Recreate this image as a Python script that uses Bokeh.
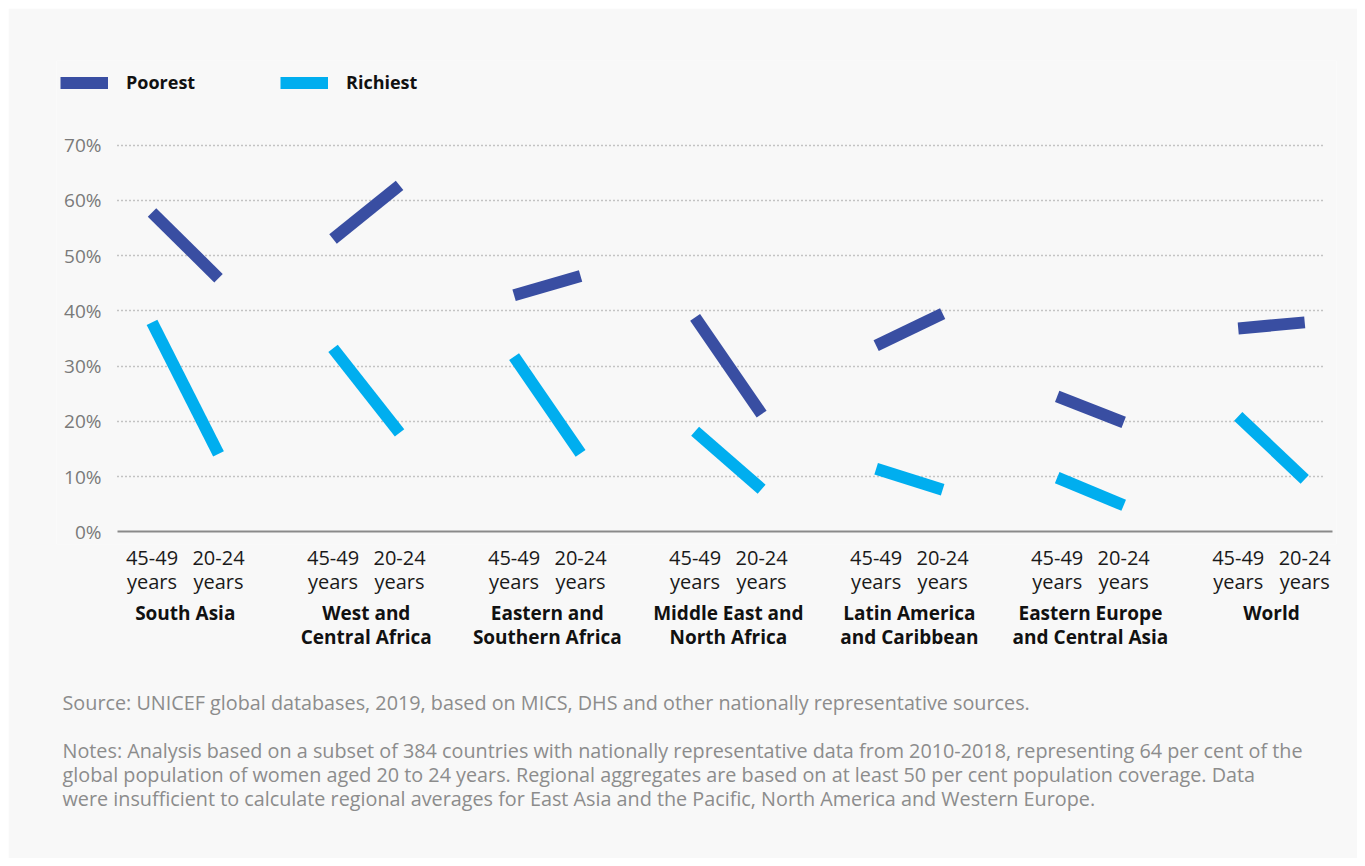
from bokeh.plotting import figure
from bokeh.models import (ColumnDataSource, Range1d, FixedTicker, LinearAxis, Grid,
                          PrintfTickFormatter, Legend, LegendItem, Title)
from bokeh.embed import file_html
from bokeh.resources import INLINE

# ---- data ----
regions = ["South Asia", "West and\nCentral Africa", "Eastern and\nSouthern Africa",
           "Middle East and\nNorth Africa", "Latin America\nand Caribbean",
           "Eastern Europe\nand Central Asia", "World"]
ages = ["45-49\nyears", "20-24\nyears"]

poorest_45_49 = [57.8, 53.0, 42.8, 38.8, 33.7, 24.5, 36.8]
poorest_20_24 = [45.9, 62.7, 46.3, 21.3, 39.5, 19.8, 37.9]
richiest_45_49 = [37.9, 33.2, 31.7, 18.2, 11.4, 9.8, 20.9]
richiest_20_24 = [14.1, 17.9, 14.2, 7.7, 7.6, 4.8, 9.5]

y_ticks = [0, 10, 20, 30, 40, 50, 60, 70]

source_text = "Source: UNICEF global databases, 2019, based on MICS, DHS and other nationally representative sources."
notes_lines = [
    "Notes: Analysis based on a subset of 384 countries with nationally representative data from 2010-2018, representing 64 per cent of the",
    "global population of women aged 20 to 24 years. Regional aggregates are based on at least 50 per cent population coverage. Data",
    "were insufficient to calculate regional averages for East Asia and the Pacific, North America and Western Europe.",
]

# ---- layout constants (not data) ----
FONT = "Open Sans"
POOR_C = "#394ea2"
RICH_C = "#00aeef"
BG = "#f8f8f8"
GROUP_STEP = 49      # x units between regions
AGE_OFF = 9          # x units from region centre to each age position

centers = [GROUP_STEP * i for i in range(len(regions))]
x_old = [c - AGE_OFF for c in centers]
x_young = [c + AGE_OFF for c in centers]

X_START, X_END = -34.85, 311.6
Y_AXIS_AT = -18.34
PLOT_RIGHT = 310.5

p = figure(width=1349, height=850,
           x_range=Range1d(X_START, X_END), y_range=Range1d(-2.3, 85.3),
           output_backend="svg", toolbar_location=None,
           min_border_left=48, min_border_right=21,
           min_border_top=52, min_border_bottom=314)
p.margin = (8, 8, 8, 8)
p.background_fill_color = BG
p.border_fill_color = BG
p.outline_line_color = None

src_poor = ColumnDataSource(dict(x0=x_old, x1=x_young, y0=poorest_45_49, y1=poorest_20_24))
src_rich = ColumnDataSource(dict(x0=x_old, x1=x_young, y0=richiest_45_49, y1=richiest_20_24))

r_poor = p.segment(x0="x0", y0="y0", x1="x1", y1="y1", source=src_poor,
                   line_color=POOR_C, line_width=12, line_cap="butt")
r_rich = p.segment(x0="x0", y0="y0", x1="x1", y1="y1", source=src_rich,
                   line_color=RICH_C, line_width=12, line_cap="butt")

# ---- y axis ----
yax = p.yaxis[0]
yax.fixed_location = Y_AXIS_AT
yax.ticker = FixedTicker(ticks=y_ticks)
yax.formatter = PrintfTickFormatter(format="%d%%")
yax.axis_line_color = None
yax.major_tick_line_color = None
yax.minor_tick_line_color = None
yax.major_label_standoff = 10
yax.major_label_text_font = FONT
yax.major_label_text_font_size = "19px"
yax.major_label_text_color = "#7a7a7a"

ygrid = p.ygrid[0]
ygrid.ticker = FixedTicker(ticks=y_ticks[1:])
ygrid.grid_line_color = "#8f8f8f"
ygrid.grid_line_dash = "1 3"
ygrid.grid_line_width = 1.5
ygrid.cross_bounds = (Y_AXIS_AT, 308.5)
p.xgrid.grid_line_color = None

# baseline at 0%
zero_grid = Grid(dimension=1, ticker=FixedTicker(ticks=[0]),
                 grid_line_color="#8a8a8a", grid_line_width=2,
                 cross_bounds=(Y_AXIS_AT, PLOT_RIGHT))
p.add_layout(zero_grid, "center")

# ---- x axis: age labels ----
xax = p.xaxis[0]
xax.ticker = FixedTicker(ticks=x_old + x_young)
xax.major_label_overrides = {**{x: ages[0] for x in x_old}, **{x: ages[1] for x in x_young}}
xax.axis_line_color = None
xax.major_tick_line_color = None
xax.minor_tick_line_color = None
xax.major_label_standoff = -7
xax.major_label_text_font = FONT
xax.major_label_text_font_size = "20px"
xax.major_label_text_color = "#1a1a1a"
xax.major_label_text_line_height = 0.92

# ---- x axis: region labels ----
gax = LinearAxis(ticker=FixedTicker(ticks=centers),
                 major_label_overrides={c: r for c, r in zip(centers, regions)})
gax.axis_line_color = None
gax.major_tick_line_color = None
gax.minor_tick_line_color = None
gax.major_label_standoff = -5
gax.major_label_text_font = FONT
gax.major_label_text_font_size = "19px"
gax.major_label_text_font_style = "bold"
gax.major_label_text_color = "#111111"
gax.major_label_text_line_height = 0.94
p.add_layout(gax, "below")

# ---- legend ----
legend = Legend(items=[LegendItem(label="Poorest", renderers=[r_poor]),
                       LegendItem(label="Richiest", renderers=[r_rich])],
                location=(4, 450), orientation="horizontal",
                glyph_width=48, glyph_height=15, label_height=15,
                label_width=154, label_standoff=18, spacing=0,
                padding=0, margin=0, border_line_color=None,
                background_fill_alpha=0,
                label_text_font=FONT, label_text_font_size="18px",
                label_text_font_style="bold", label_text_color="#111111")
p.add_layout(legend, "center")

# ---- source and notes ----
NOTE_KW = dict(align="left", offset=6, text_font=FONT, text_font_size="19.8px",
               text_color="#8c8c8c", text_font_style="normal")
p.add_layout(Title(text=" ", standoff=5, **NOTE_KW), "below")
p.add_layout(Title(text=source_text, standoff=0, **NOTE_KW), "below")
p.add_layout(Title(text="\n".join(notes_lines), standoff=39, text_line_height=0.89,
                   **NOTE_KW), "below")

open("out.html", "w").write(file_html(p, INLINE))
